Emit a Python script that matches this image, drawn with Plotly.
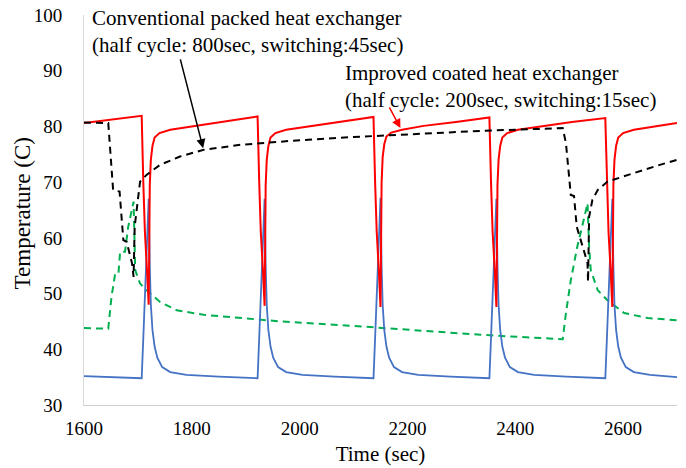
import plotly.graph_objects as go

# Improved coated heat exchanger (half cycle 200 s, switching 15 s) - hot side (red)
red_x = [1600, 1707, 1710, 1713, 1717, 1720, 1721, 1722, 1724, 1727, 1731, 1740, 1760, 1800, 1860,
         1922, 1925, 1928, 1932, 1935, 1936, 1937, 1939, 1942, 1946, 1955, 1975, 2015, 2075,
         2137, 2140, 2143, 2147, 2150, 2151, 2152, 2154, 2157, 2161, 2170, 2190, 2230, 2290,
         2352, 2355, 2358, 2362, 2365, 2366, 2367, 2369, 2372, 2376, 2385, 2405, 2445, 2505,
         2567, 2570, 2573, 2577, 2580, 2581, 2582, 2584, 2587, 2591, 2600, 2620, 2660, 2700]
red_y = [80.6, 81.9, 70.0, 61.0, 54.0, 48.0, 58.0, 69.5, 74.0, 76.5, 78.0, 78.8, 79.4, 80.0, 80.8,
         81.8, 70.0, 61.0, 54.0, 47.8, 58.0, 69.5, 74.0, 76.5, 78.0, 78.8, 79.4, 80.0, 80.8,
         81.7, 70.0, 61.0, 54.0, 47.6, 58.0, 69.8, 74.5, 76.8, 78.2, 78.9, 79.4, 80.1, 80.8,
         81.6, 70.0, 61.0, 54.0, 47.6, 58.0, 69.5, 74.0, 76.5, 78.0, 78.8, 79.4, 80.0, 80.8,
         81.5, 70.0, 61.0, 54.0, 47.6, 58.0, 69.5, 74.0, 76.5, 78.0, 78.8, 79.4, 80.0, 80.6]

# Improved coated heat exchanger - cold side (blue)
blue_x = [1600, 1707, 1710, 1714, 1718, 1720, 1722, 1724, 1727, 1731, 1736, 1745, 1760, 1790, 1850,
          1922, 1925, 1929, 1933, 1935, 1937, 1939, 1942, 1946, 1951, 1960, 1975, 2005, 2065,
          2137, 2140, 2144, 2148, 2150, 2152, 2154, 2157, 2161, 2166, 2175, 2190, 2220, 2280,
          2352, 2355, 2359, 2363, 2365, 2367, 2369, 2372, 2376, 2381, 2390, 2405, 2435, 2495,
          2567, 2570, 2574, 2578, 2580, 2582, 2584, 2587, 2591, 2596, 2605, 2620, 2650, 2700]
blue_y = [35.2, 34.8, 42.0, 52.0, 61.0, 67.0, 55.0, 48.0, 43.5, 40.5, 38.5, 36.8, 35.9, 35.4, 35.1,
          34.8, 42.0, 52.0, 61.0, 67.0, 55.0, 48.0, 43.5, 40.5, 38.5, 36.8, 35.9, 35.4, 35.1,
          34.8, 42.0, 52.0, 61.0, 67.2, 55.0, 48.0, 43.5, 40.5, 38.5, 36.8, 35.9, 35.4, 35.1,
          34.8, 42.0, 52.0, 61.0, 67.0, 55.0, 48.0, 43.5, 40.5, 38.5, 36.8, 35.9, 35.4, 35.1,
          34.8, 42.0, 52.0, 61.0, 67.0, 55.0, 48.0, 43.5, 40.5, 38.5, 36.8, 35.9, 35.4, 35.0]

# Conventional packed heat exchanger (half cycle 800 s, switching 45 s) - hot side (black dashed)
black_x = [1600, 1645, 1654, 1666, 1673, 1679, 1689, 1692, 1694, 1704, 1716, 1741, 1778, 1822, 1890,
           1983, 2100, 2200, 2336, 2488, 2494, 2503, 2509, 2514, 2520, 2534, 2535, 2537, 2543,
           2553, 2571, 2609, 2658, 2700]
black_y = [80.7, 80.6, 68.6, 68.3, 59.6, 59.3, 55.5, 53.0, 62.0, 70.1, 71.3, 73.1, 74.6, 75.8, 76.7,
           77.4, 78.1, 78.6, 79.2, 79.7, 77.0, 67.7, 67.5, 62.0, 60.0, 55.5, 52.1, 63.8, 66.8,
           68.6, 70.1, 71.3, 72.8, 74.0]

# Conventional packed heat exchanger - cold side (green dashed)
green_x = [1600, 1645, 1651, 1658, 1664, 1667, 1676, 1682, 1692, 1695, 1704, 1716, 1741, 1772, 1822,
           1918, 1964, 2100, 2200, 2336, 2488, 2494, 2503, 2515, 2524, 2534, 2537, 2540, 2553,
           2571, 2602, 2646, 2700]
green_y = [43.8, 43.7, 49.4, 53.7, 53.7, 57.5, 57.5, 62.0, 66.5, 54.2, 51.8, 50.6, 48.5, 47.0, 46.2,
           45.3, 45.0, 44.2, 43.5, 42.6, 41.8, 46.5, 52.4, 58.4, 62.0, 66.2, 58.4, 54.2, 50.6,
           48.8, 46.5, 45.6, 45.2]

x_ticks = [1600, 1800, 2000, 2200, 2400, 2600]
y_ticks = [30, 40, 50, 60, 70, 80, 90, 100]

label_conv = "Conventional packed heat exchanger<br>(half cycle: 800sec, switching:45sec)"
label_impr = "Improved coated heat exchanger<br>(half cycle: 200sec, switching:15sec)"
x_title = "Time (sec)"
y_title = "Temperature (C)"

FONT = "Liberation Serif, Times New Roman, serif"

fig = go.Figure()
fig.add_trace(go.Scatter(x=green_x, y=green_y, mode="lines",
                         line=dict(color="#00b050", width=2, dash="7px,5px"), showlegend=False))
fig.add_trace(go.Scatter(x=blue_x, y=blue_y, mode="lines",
                         line=dict(color="#4472c4", width=1.8), showlegend=False))
fig.add_trace(go.Scatter(x=red_x, y=red_y, mode="lines",
                         line=dict(color="#ff0000", width=2), showlegend=False))
fig.add_trace(go.Scatter(x=black_x, y=black_y, mode="lines",
                         line=dict(color="#000000", width=2, dash="7px,5px"), showlegend=False))

fig.add_annotation(text=label_conv, xref="paper", yref="paper", x=0.010, y=0.958,
                   xanchor="left", yanchor="middle", align="left", showarrow=False,
                   font=dict(family=FONT, size=21, color="#000000"))
fig.add_annotation(text=label_impr, xref="paper", yref="paper", x=0.437, y=0.817,
                   xanchor="left", yanchor="middle", align="left", showarrow=False,
                   font=dict(family=FONT, size=21, color="#000000"))
fig.add_annotation(text="", x=1821, y=76.1, ax=1778, ay=92.3, xref="x", yref="y",
                   axref="x", ayref="y", showarrow=True, arrowhead=2, arrowsize=1.2,
                   arrowwidth=1.5, arrowcolor="#000000")
fig.add_annotation(text="", x=2187, y=79.7, ax=2165, ay=83.7, xref="x", yref="y",
                   axref="x", ayref="y", showarrow=True, arrowhead=2, arrowsize=1.2,
                   arrowwidth=1.5, arrowcolor="#ff0000")
# y-axis title
fig.add_annotation(text=y_title, xref="paper", yref="paper", x=-0.1037, y=0.49,
                   xanchor="center", yanchor="middle", textangle=-90, showarrow=False,
                   font=dict(family=FONT, size=23, color="#000000"))

fig.update_layout(
    width=686, height=468,
    margin=dict(l=84, r=9, t=15, b=63),
    paper_bgcolor="white", plot_bgcolor="white",
    font=dict(family=FONT, size=19, color="#000000"),
)
fig.update_xaxes(range=[1600, 2700], tickvals=x_ticks, ticktext=[str(v) for v in x_ticks],
                 showgrid=False, zeroline=False, showline=True, linecolor="#d0d0d0", linewidth=1,
                 ticks="", ticklabelstandoff=6, tickfont=dict(family=FONT, size=19),
                 title=dict(text=x_title, font=dict(family=FONT, size=21), standoff=8),
                 automargin=False)
fig.update_yaxes(range=[30, 100], tickvals=y_ticks, ticktext=[str(v) for v in y_ticks],
                 showgrid=False, zeroline=False, showline=True, linecolor="#d9d9d9", linewidth=1,
                 ticks="", ticklabelstandoff=17, ticklabeloverflow="allow",
                 tickfont=dict(family=FONT, size=19),
                 automargin=False)

fig.write_html("out.html", config={"displayModeBar": False},
               post_script="document.body.style.margin='0';")
